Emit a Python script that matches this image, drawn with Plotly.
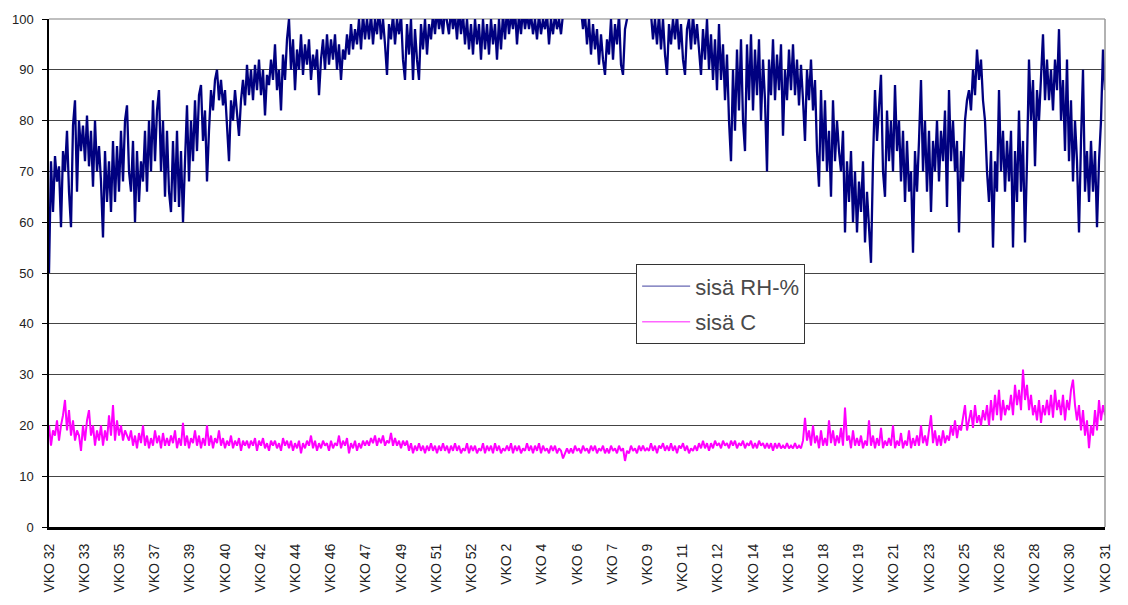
import plotly.graph_objects as go

# Week labels shown along the time axis (one label roughly every 1.7 weeks)
week_labels = [
    "VKO 32", "VKO 33", "VKO 35", "VKO 37", "VKO 39", "VKO 40", "VKO 42",
    "VKO 44", "VKO 46", "VKO 47", "VKO 49", "VKO 51", "VKO 52", "VKO 2",
    "VKO 4", "VKO 6", "VKO 7", "VKO 9", "VKO 11", "VKO 12", "VKO 14",
    "VKO 16", "VKO 18", "VKO 19", "VKO 21", "VKO 23", "VKO 25", "VKO 26",
    "VKO 28", "VKO 30", "VKO 31",
]

# Indoor relative humidity, % (readings above 100 fall outside the axis)
rh_values = [
    50, 72, 62, 73, 68, 71, 59, 74, 70, 78, 66, 59, 79, 84, 66, 80, 74, 79, 72, 81,
    71, 78, 67, 80, 70, 75, 68, 57, 74, 64, 72, 62, 76, 64, 75, 66, 78, 68, 80, 83,
    70, 66, 76, 60, 74, 64, 72, 68, 78, 66, 80, 70, 84, 72, 82, 86, 70, 80, 65, 78,
    66, 62, 76, 64, 78, 63, 74, 60, 72, 83, 68, 80, 72, 84, 74, 85, 87, 76, 82, 68,
    78, 86, 82, 88, 90, 84, 88, 83, 86, 80, 72, 84, 80, 86, 82, 77, 84, 88, 83, 91,
    85, 90, 84, 91, 86, 92, 85, 90, 81, 89, 87, 92, 88, 95, 86, 90, 82, 93, 88, 96,
    100, 90, 96, 86, 94, 90, 97, 89, 95, 91, 96, 88, 93, 90, 94, 85, 92, 96, 90, 97,
    91, 96, 92, 97, 90, 95, 88, 94, 92, 97, 93, 99, 94, 98, 95, 100, 94, 101, 96, 100,
    96, 101, 95, 100, 97, 102, 96, 100, 95, 89, 99, 96, 101, 95, 100, 97, 101, 92, 88, 99,
    93, 100, 88, 98, 92, 88, 99, 94, 100, 93, 99, 96, 101, 97, 102, 98, 101, 97, 102, 99,
    97, 102, 98, 101, 96, 102, 97, 101, 95, 100, 94, 99, 93, 100, 95, 99, 92, 100, 94, 99,
    93, 100, 95, 99, 92, 100, 94, 101, 96, 102, 97, 101, 98, 102, 95, 101, 97, 102, 98, 101,
    98, 101, 97, 100, 96, 101, 97, 100, 98, 101, 95, 100, 97, 101, 98, 100, 97, 101, 103, 104,
    104, 105, 103, 106, 104, 103, 102, 98, 101, 95, 100, 93, 99, 94, 98, 91, 97, 92, 89, 96,
    93, 100, 92, 99, 95, 101, 91, 89, 98, 100, 102, 103, 105, 104, 106, 104, 105, 103, 104, 103,
    102, 101, 96, 100, 95, 101, 94, 100, 93, 89, 99, 95, 100, 96, 101, 94, 99, 92, 89, 98,
    100, 94, 101, 95, 99, 93, 89, 98, 92, 100, 90, 97, 88, 96, 86, 99, 88, 95, 84, 93,
    80, 72, 90, 78, 94, 82, 96, 80, 74, 95, 84, 97, 82, 94, 85, 96, 80, 92, 84, 70,
    92, 85, 96, 84, 93, 86, 95, 77, 90, 84, 94, 86, 95, 85, 92, 83, 91, 84, 76, 90,
    84, 92, 82, 88, 74, 67, 86, 72, 84, 70, 78, 65, 84, 72, 80, 74, 70, 78, 58, 72,
    64, 74, 60, 70, 58, 68, 62, 72, 56, 66, 60, 52, 72, 86, 76, 84, 89, 70, 65, 82,
    72, 80, 70, 87, 74, 80, 68, 78, 64, 76, 66, 70, 54, 74, 66, 76, 88, 70, 80, 66,
    78, 62, 76, 70, 80, 68, 78, 72, 82, 63, 86, 72, 80, 70, 76, 58, 74, 68, 80, 84,
    86, 82, 90, 85, 94, 88, 92, 84, 80, 70, 64, 74, 55, 72, 66, 86, 70, 78, 66, 76,
    68, 78, 55, 74, 64, 82, 66, 76, 56, 72, 92, 80, 88, 71, 86, 80, 90, 97, 84, 92,
    84, 90, 82, 92, 86, 98, 80, 88, 74, 92, 72, 84, 68, 80, 72, 58, 76, 90, 66, 74,
    64, 76, 66, 74, 59, 72, 80, 94, 86,
]

# Indoor temperature, °C
temp_values = [
    20, 16, 19, 18, 21, 17, 20, 22, 25, 19, 23, 18, 21, 17, 19, 18, 15, 20, 17, 21,
    23, 18, 20, 16, 19, 17, 20, 16, 19, 17, 22, 18, 24, 17, 21, 18, 20, 17, 19, 18,
    17, 19, 16, 18, 15.5, 18.5, 16.5, 20, 16, 18, 15.5, 17.5, 16, 19, 16.5, 18, 15.5, 18.5, 16, 17.5,
    16, 18, 16.5, 19, 15.5, 17.5, 16, 20.5, 16, 18, 15.5, 17.5, 16.5, 19, 16, 18, 15.5, 17.5, 16, 20,
    16, 18, 15.5, 17.5, 16.5, 19, 16, 17.5, 15.5, 17, 16, 18, 15.5, 17, 16, 17.5, 15, 17, 16, 17,
    15.5, 17, 16, 17.5, 15, 17, 16, 17.5, 15.5, 16.5, 15, 17, 16, 17, 15.5, 16.5, 15, 17.5, 16, 17,
    15.5, 17, 15, 16.5, 15.5, 17, 14.5, 16.5, 15.5, 17, 16, 18, 15.5, 17, 15, 16.5, 15.5, 17, 16, 16.5,
    15, 17, 15.5, 16.5, 16, 18, 15.5, 17, 16, 17.5, 14.5, 16.5, 15.5, 17, 15, 16.5, 15.5, 17, 16, 17,
    16, 17.5, 16.5, 18, 16, 17.5, 16.5, 18, 16, 17, 16.5, 18.5, 16, 17.5, 16, 17, 15.5, 17, 16, 17,
    15, 16.5, 14.5, 16, 15, 16.5, 15, 16, 14.5, 16, 15, 16.5, 15, 16, 14.5, 16, 15, 16.5, 15, 16,
    14.5, 16, 15, 16.5, 15, 16, 14.5, 15.5, 15, 16.5, 14.5, 16, 15, 16, 14.5, 15.5, 15, 16.5, 14.5, 16,
    15, 16, 14.5, 16.5, 15, 16, 14.5, 15.5, 15, 16, 15, 16.5, 14.5, 16, 15, 16, 14.5, 15.5, 15, 16.5,
    15, 16, 14.5, 16, 15, 16.5, 14.5, 16, 15, 15.5, 14.5, 16, 15, 16, 14.5, 15.5, 15, 13.5, 14.5, 15.5,
    14.5, 15.5, 14.5, 16, 15, 15.5, 14.5, 16, 15, 15.5, 14.5, 16, 15, 16, 14.5, 15.5, 15, 16, 14.5, 15.5,
    14.5, 16, 15, 15.5, 14.5, 16, 15, 15.5, 13, 15, 14.5, 16, 15, 15.5, 14.5, 16, 15, 16, 15, 15.5,
    15, 16.5, 15, 16, 14.5, 16, 15.5, 16.5, 15, 16, 15, 16.5, 15, 16, 14.5, 16, 15.5, 16.5, 15, 16,
    14.5, 15.5, 15, 16, 15, 16.5, 15.5, 17, 15.5, 16.5, 15, 16.5, 15.5, 17, 16, 16.5, 15.5, 17, 16, 16.5,
    15.5, 17, 16, 17, 15.5, 16.5, 16, 17, 15.5, 16.5, 16, 17, 15.5, 16.5, 15.5, 17, 16, 16.5, 15.5, 16.5,
    15.5, 16.5, 15, 16.5, 15.5, 16.5, 15.5, 16, 15.5, 16.5, 15.5, 16, 15.5, 16.5, 15.5, 16, 15.5, 17, 21.5, 17,
    19, 16, 20, 16.5, 18, 15.5, 19, 16, 17.5, 16, 21, 16.5, 19, 16, 18, 16.5, 19.5, 16, 23.5, 17,
    18, 15.5, 19, 16, 17.5, 16, 18, 15.5, 17, 16, 21, 16, 18, 15.5, 17.5, 16, 19.5, 15.5, 17, 16,
    17.5, 16, 20, 15.5, 17, 16, 18.5, 15.5, 17, 16, 19, 15.5, 17.5, 16, 18, 16, 20, 16.5, 18, 16,
    19, 22, 16.5, 19, 16, 18, 16, 19, 16.5, 18, 17, 20, 18, 21, 17.5, 20, 19, 22, 24, 19,
    21, 23, 19.5, 24, 20.5, 22, 20, 23, 21, 24, 20, 25, 21, 26, 22, 27, 21, 25, 22, 24,
    23, 26, 22, 28, 24, 27, 23, 31, 25, 28, 23, 26, 22, 24, 21, 25, 20.5, 24, 22, 25,
    22, 26, 21.5, 27, 23, 25, 22, 26, 21, 25, 23, 27, 29, 24, 21, 24, 19, 23, 18, 21,
    15.5, 20, 18, 23, 19, 25, 21, 24, 22,
]

series_names = ["sisä RH-%", "sisä C"]
series_colors = ["#000080", "#FF00FF"]

n = len(rh_values)
x_rh = list(range(n))
x_temp = [i * (n - 1) / (len(temp_values) - 1) for i in range(len(temp_values))]
tick_pos = [k * (n - 1) / (len(week_labels) - 1) for k in range(len(week_labels))]

fig = go.Figure()
fig.add_trace(go.Scatter(
    x=x_rh, y=rh_values, mode="lines", name=series_names[0], showlegend=False,
    line=dict(color=series_colors[0], width=2.3),
))
fig.add_trace(go.Scatter(
    x=x_temp, y=temp_values, mode="lines", name=series_names[1], showlegend=False,
    line=dict(color=series_colors[1], width=2),
))

# Legend entries with a thin line sample
for name, color in zip(series_names, series_colors):
    fig.add_trace(go.Scatter(
        x=[None], y=[None], mode="lines", name=name, legendgroup=name,
        line=dict(color=color, width=1.3), opacity=0.6, hoverinfo="skip",
    ))

font_family = "Liberation Sans, Arial, sans-serif"

fig.update_layout(
    width=1128, height=605,
    margin=dict(l=48, r=23, t=15, b=77),
    paper_bgcolor="white", plot_bgcolor="white",
    showlegend=True,
    legend=dict(
        x=0.556, y=0.517, xanchor="left", yanchor="top",
        bgcolor="white", bordercolor="#333333", borderwidth=1,
        font=dict(family=font_family, size=22, color="#4a4a4a"),
        traceorder="grouped", tracegroupgap=4, itemwidth=48,
    ),
    xaxis=dict(
        range=[0, n - 1], tickmode="array", tickvals=tick_pos, ticktext=week_labels,
        tickangle=-90, tickfont=dict(family=font_family, size=14, color="#222222"),
        ticklabelstandoff=8,
        showgrid=False, zeroline=False,
        showline=True, linecolor="black", linewidth=3, ticks="",
    ),
    yaxis=dict(
        range=[0, 100], tickmode="array", tickvals=list(range(0, 101, 10)),
        tickfont=dict(family=font_family, size=13, color="#222222"),
        ticklabelstandoff=6,
        showgrid=True, gridcolor="#444444", gridwidth=1.2,
        zeroline=False, showline=True, linecolor="black", linewidth=1.5,
        ticks="outside", ticklen=5, tickcolor="black",
    ),
)

# Plot-area frame on the top and right
fig.add_shape(type="line", xref="paper", yref="paper", x0=1, x1=1, y0=0, y1=1,
              line=dict(color="#999999", width=1.5))
fig.add_shape(type="line", xref="paper", yref="paper", x0=0, x1=1, y0=1, y1=1,
              line=dict(color="#aaaaaa", width=1.5), layer="below")

fig.write_html("out.html")
